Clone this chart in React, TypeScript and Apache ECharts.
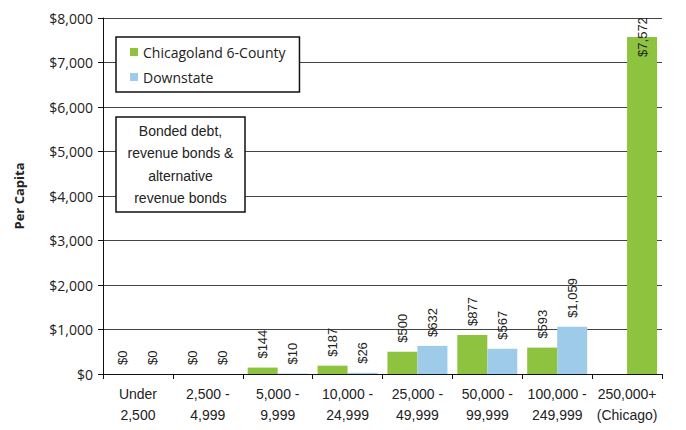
import React, { useEffect, useRef } from "react";
import * as echarts from "echarts";

const categories = [
  "Under\n2,500",
  "2,500 -\n4,999",
  "5,000 -\n9,999",
  "10,000 -\n24,999",
  "25,000 -\n49,999",
  "50,000 -\n99,999",
  "100,000 -\n249,999",
  "250,000+\n(Chicago)",
];
const chicagoland = [0, 0, 144, 187, 500, 877, 593, null];
const downstate = [0, 0, 10, 26, 632, 567, 1059, null];
const chicago = [null, null, null, null, null, null, null, 7572];
const yTicks = [0, 1000, 2000, 3000, 4000, 5000, 6000, 7000, 8000];

const GREEN = "#8dc33e";
const BLUE = "#9ecbea";

const fmt = (v: number) => "$" + Number(v).toLocaleString("en-US");

export default function App() {
  const ref = useRef<HTMLDivElement>(null);
  useEffect(() => {
    if (!ref.current) return;
    const chart = echarts.init(ref.current, undefined, { renderer: "svg" });
    const barLabel = {
      show: true,
      position: "top",
      rotate: 90,
      align: "left",
      verticalAlign: "middle",
      distance: 9,
      fontFamily: "Liberation Sans, Arial, sans-serif",
      fontSize: 13,
      color: "#222",
      formatter: (p: any) => fmt(p.value),
    };
    chart.setOption({
      animation: false,
      backgroundColor: "#fff",
      grid: { left: 103, right: 24, top: 18, bottom: 56 },
      legend: {
        data: ["Chicagoland 6-County", "Downstate"],
        orient: "vertical",
        left: 116,
        top: 37,
        backgroundColor: "#fff",
        borderColor: "#111",
        borderWidth: 1.5,
        padding: [8, 14, 8, 14],
        itemWidth: 8,
        itemHeight: 8,
        itemGap: 11,
        icon: "rect",
        textStyle: { fontFamily: "Open Sans, sans-serif", fontSize: 14, color: "#222" },
      },
      xAxis: {
        type: "category",
        data: categories,
        axisLine: { lineStyle: { color: "#111", width: 1 } },
        axisTick: { show: true, length: 5, interval: 0, lineStyle: { color: "#111" } },
        axisLabel: {
          interval: 0,
          fontFamily: "Liberation Sans, Arial, sans-serif",
          fontSize: 14,
          lineHeight: 21,
          color: "#222",
          margin: 9,
        },
      },
      yAxis: {
        type: "value",
        min: 0,
        max: 8000,
        interval: 1000,
        name: "Per Capita",
        nameLocation: "middle",
        nameGap: 78,
        nameTextStyle: { fontFamily: "Open Sans, sans-serif", fontWeight: "bold", fontSize: 13, color: "#222" },
        axisLine: { show: true, lineStyle: { color: "#111" } },
        axisTick: { show: true, length: 5, lineStyle: { color: "#111" } },
        axisLabel: {
          fontFamily: "Open Sans, sans-serif",
          fontSize: 14,
          color: "#222",
          margin: 10,
          formatter: (v: number) => (yTicks.includes(v) ? fmt(v) : ""),
        },
        splitLine: { lineStyle: { color: "#444", width: 1 } },
      },
      series: [
        {
          name: "Chicagoland 6-County",
          type: "bar",
          stack: "a",
          data: chicagoland,
          barWidth: 30,
          barGap: "0%",
          itemStyle: { color: GREEN },
          label: barLabel,
        },
        {
          name: "Downstate",
          type: "bar",
          stack: "b",
          data: downstate,
          barWidth: 30,
          barGap: "0%",
          itemStyle: { color: BLUE },
          label: barLabel,
        },
        {
          name: "Chicago",
          type: "bar",
          stack: "b",
          data: chicago,
          barWidth: 30,
          barGap: "0%",
          itemStyle: { color: GREEN },
          label: { ...barLabel, align: "center", distance: 0 },
        },
      ],
      graphic: [
        {
          type: "rect",
          z: 100,
          zlevel: 0,
          shape: { x: 116, y: 117, width: 129, height: 95 },
          style: { fill: "#fff", stroke: "#111", lineWidth: 1.5 },
        },
        {
          type: "text",
          z: 101,
          x: 180.5,
          y: 164.5,
          style: {
            text: "Bonded debt,\nrevenue bonds &\nalternative\nrevenue bonds",
            align: "center",
            verticalAlign: "middle",
            lineHeight: 22.5,
            fontFamily: "Liberation Sans, Arial, sans-serif",
            fontSize: 14,
            fill: "#222",
          },
        },
      ],
    });
    return () => chart.dispose();
  }, []);
  return (
    <div
      ref={ref}
      style={{ position: "absolute", left: 0, top: 0, width: 686, height: 430 }}
    />
  );
}
